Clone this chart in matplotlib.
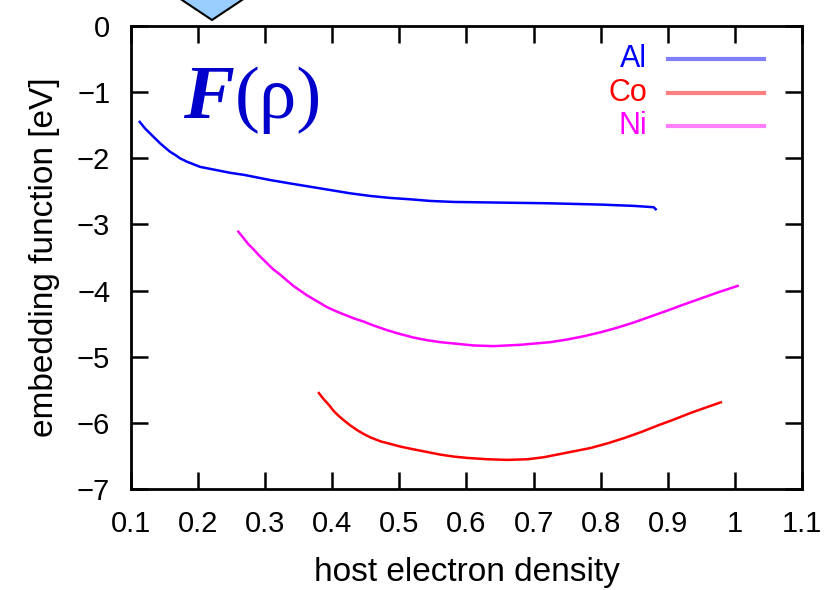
import matplotlib
matplotlib.use('Agg')
import matplotlib.pyplot as plt
from matplotlib.patches import Polygon

# densidad electronica (x) y funcion de embebido (y) para cada elemento
al_x = [0.113, 0.121, 0.128, 0.136, 0.143, 0.151, 0.158, 0.166, 0.173, 0.183, 0.193, 0.203,
        0.218, 0.233, 0.248, 0.268, 0.288, 0.308, 0.337, 0.367, 0.397, 0.427, 0.457, 0.487,
        0.516, 0.546, 0.581, 0.65, 0.721, 0.80, 0.85, 0.879, 0.882]
al_y = [-1.45, -1.55, -1.62, -1.70, -1.77, -1.84, -1.90, -1.95, -2.00, -2.05, -2.09, -2.13,
        -2.16, -2.19, -2.22, -2.25, -2.29, -2.33, -2.38, -2.43, -2.48, -2.53, -2.57, -2.60,
        -2.62, -2.645, -2.66, -2.67, -2.68, -2.70, -2.72, -2.74, -2.77]

ni_x = [0.260, 0.268, 0.275, 0.283, 0.290, 0.298, 0.305, 0.312, 0.320, 0.327, 0.335, 0.342,
        0.352, 0.362, 0.372, 0.382, 0.392, 0.405, 0.417, 0.432, 0.447, 0.462, 0.482, 0.502,
        0.521, 0.541, 0.561, 0.581, 0.611, 0.641, 0.68, 0.725, 0.750, 0.775, 0.800, 0.825,
        0.850, 0.875, 0.900, 0.924, 0.949, 0.974, 1.004]
ni_y = [-3.11, -3.21, -3.30, -3.38, -3.46, -3.54, -3.61, -3.68, -3.74, -3.80, -3.87, -3.93,
        -4.00, -4.07, -4.13, -4.19, -4.25, -4.31, -4.36, -4.42, -4.47, -4.53, -4.60, -4.66,
        -4.71, -4.75, -4.78, -4.80, -4.83, -4.84, -4.82, -4.78, -4.74, -4.69, -4.63, -4.56,
        -4.48, -4.39, -4.30, -4.21, -4.12, -4.03, -3.93]

co_x = [0.380, 0.387, 0.395, 0.402, 0.409, 0.417, 0.427, 0.437, 0.447, 0.457, 0.472, 0.487,
        0.502, 0.521, 0.541, 0.561, 0.581, 0.601, 0.631, 0.661, 0.691, 0.715, 0.735, 0.760,
        0.785, 0.810, 0.835, 0.860, 0.885, 0.909, 0.934, 0.959, 0.979]
co_y = [-5.55, -5.64, -5.73, -5.82, -5.89, -5.96, -6.04, -6.11, -6.17, -6.22, -6.28, -6.32,
        -6.36, -6.40, -6.44, -6.48, -6.51, -6.53, -6.55, -6.56, -6.55, -6.52, -6.48, -6.43,
        -6.38, -6.31, -6.23, -6.14, -6.04, -5.95, -5.85, -5.76, -5.69]

x_ticks = [0.1, 0.2, 0.3, 0.4, 0.5, 0.6, 0.7, 0.8, 0.9, 1.0, 1.1]
x_labels = ['0.1', '0.2', '0.3', '0.4', '0.5', '0.6', '0.7', '0.8', '0.9', '1', '1.1']
y_ticks = [0, -1, -2, -3, -4, -5, -6, -7]

plt.rcParams['font.family'] = ['Liberation Sans', 'DejaVu Sans']

fig = plt.figure(figsize=(8.29, 5.9), dpi=100)
ax = fig.add_axes([131 / 829, 1 - 489 / 590, 671 / 829, 463 / 590])

ax.plot(al_x, al_y, color='#0000ff', lw=1.8)
ax.plot(co_x, co_y, color='#ff0000', lw=1.8)
ax.plot(ni_x, ni_y, color='#ff00ff', lw=1.8)

ax.set_xlim(0.1, 1.1)
ax.set_ylim(-7, 0)
ax.set_xticks(x_ticks)
ax.set_xticklabels(x_labels)
ax.set_yticks(y_ticks)
ax.tick_params(direction='in', length=12, width=1.8, labelsize=21, pad=15,
               top=True, right=True)
for s in ax.spines.values():
    s.set_linewidth(2)

ax.set_xlabel('host electron density', fontsize=24, labelpad=14)
ax.set_ylabel('embedding function [eV]', fontsize=24, labelpad=12)

# leyenda hecha a mano (texto a la izquierda, linea a la derecha)
leyenda = [('Al', '#0000ff', '#8080ff'), ('Co', '#ff0000', '#ff8080'), ('Ni', '#ff00ff', '#ff80ff')]
ys = [0.929, 0.855, 0.784]
for (nombre, c_txt, c_lin), yy in zip(leyenda, ys):
    ax.text(0.769, yy, nombre, color=c_txt, fontsize=22, ha='right', va='center',
            transform=ax.transAxes)
    ax.plot([0.800, 0.943], [yy, yy], color=c_lin, lw=3, transform=ax.transAxes)

# titulo F(rho)
fig.text(183 / 829, 1 - 118 / 590, 'F', family='Liberation Serif', weight='bold',
         style='italic', fontsize=55, color='#0000cc', ha='left', va='baseline')
fig.text(235 / 829, 1 - 118 / 590, '(ρ)', family='Liberation Serif', fontsize=54,
         color='#0000cc', ha='left', va='baseline')

# flecha azul cortada arriba
flecha = Polygon([(176 / 829, 1 + 4 / 590), (212 / 829, 1 - 20 / 590), (248 / 829, 1 + 4 / 590)],
                 closed=True, facecolor='#99ccff', edgecolor='black', lw=1.5,
                 transform=fig.transFigure, clip_on=False)
fig.patches.append(flecha)

plt.savefig('out.png', dpi=100)
plt.close()
